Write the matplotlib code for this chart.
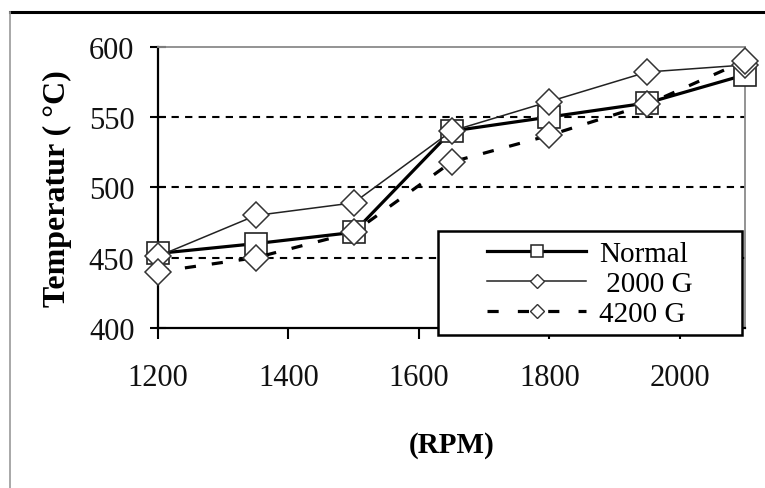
import matplotlib
matplotlib.use("Agg")
import matplotlib.pyplot as plt
from matplotlib.lines import Line2D
from matplotlib.patches import Rectangle

rpm = [1200, 1350, 1500, 1650, 1800, 1950, 2100]
normal = [453, 460, 468, 540, 550, 560, 580]
g2000 = [451, 480, 489, 540, 561, 582, 587]
g4200 = [440, 450, 468, 518, 537, 559, 590]
labels = ["Normal", " 2000 G", "4200 G"]
yticks = [400, 450, 500, 550, 600]
xticks = [1200, 1400, 1600, 1800, 2000]

plt.rcParams['font.family'] = ['Liberation Serif', 'DejaVu Serif']

W, H = 765, 489
fig = plt.figure(figsize=(W / 100, H / 100), dpi=100)
ax = fig.add_axes([158 / W, 1 - 329 / H, (745 - 158) / W, (329 - 47.7) / H])

# gridlines
for v in yticks[1:-1]:
    ax.axhline(v, color='black', lw=1.5, ls=(0, (3.5, 3)), zorder=1)

ax.plot(rpm, normal, color='black', lw=2.3, marker='s', ms=16.5,
        mfc='white', mec='#222222', mew=1.2, zorder=3, clip_on=False)
ax.plot(rpm, g2000, color='#222222', lw=1.1, marker='D', ms=13.5,
        mfc='white', mec='#333333', mew=1.1, zorder=3, clip_on=False)
ax.plot(rpm, g4200, color='black', lw=2.3, ls=(0, (3.5, 5)), marker='D', ms=13.5,
        mfc='white', mec='#333333', mew=1.1, zorder=3, clip_on=False)

ax.set_xlim(1200, 2100)
ax.set_ylim(400, 600)
ax.set_xticks(xticks)
ax.set_xticklabels([str(t) for t in xticks])
ax.set_yticks(yticks)
ax.set_yticklabels([str(t) for t in yticks])

for s in ['left', 'bottom']:
    ax.spines[s].set_color('black')
    ax.spines[s].set_linewidth(1.6)
for s in ['top', 'right']:
    ax.spines[s].set_color('#8a8a8a')
    ax.spines[s].set_linewidth(1.3)

ax.tick_params(axis='y', direction='inout', length=12, width=1.5, pad=11,
               labelsize=22, labelcolor='#111111')
ax.tick_params(axis='x', direction='out', length=8, width=1.5, pad=17,
               labelsize=22, labelcolor='#111111')

ax.set_xlabel('(RPM)', fontsize=21, fontweight='bold', labelpad=28)
ax.set_ylabel('Temperatur ( °C)', fontsize=23, fontweight='bold', labelpad=12)

# legend box
box = Rectangle(((438 - 158) / 587, (329 - 336) / 281.3), (742 - 438) / 587,
                (336 - 232) / 281.3, transform=ax.transAxes, facecolor='white',
                edgecolor='black', lw=1.8, clip_on=False, zorder=6)
ax.add_patch(box)

handles = [
    Line2D([], [], color='black', lw=2.3, marker='s', ms=9, mfc='white', mec='#222222', mew=1.1),
    Line2D([], [], color='#222222', lw=1.1, marker='D', ms=7, mfc='white', mec='#333333', mew=1.0),
    Line2D([], [], color='black', lw=2.3, ls=(0, (3.5, 6)), marker='D', ms=7, mfc='white', mec='#333333', mew=1.0),
]
leg = ax.legend(handles, labels, loc='upper left',
                bbox_to_anchor=((487 - 158) / 587, (329 - 242) / 281.3),
                frameon=False, fontsize=21, handlelength=3.4, handletextpad=0.45,
                labelspacing=0.12, borderpad=0, borderaxespad=0)
leg.set_zorder(7)

# page borders
fig.add_artist(Line2D([10 / W, 1], [1 - 13 / H, 1 - 13 / H], color='black', lw=2.2))
fig.add_artist(Line2D([10 / W, 10 / W], [0, 1 - 13 / H], color='#9a9a9a', lw=1.2))

fig.savefig('out.png', dpi=100)
